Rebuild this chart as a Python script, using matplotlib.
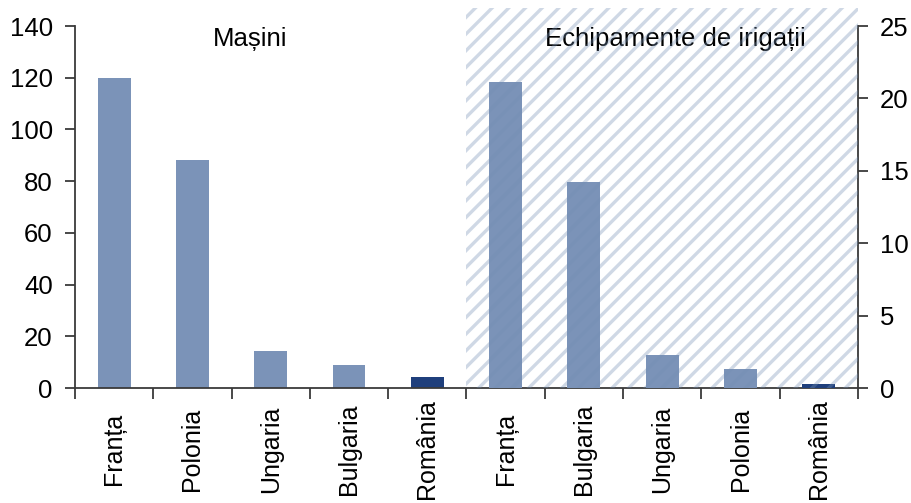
import matplotlib
matplotlib.use('Agg')
import matplotlib.pyplot as plt
from matplotlib.patches import Rectangle
import matplotlib.transforms as mtransforms

plt.rcParams['font.family'] = ['Liberation Sans', 'DejaVu Sans']
plt.rcParams['hatch.linewidth'] = 2.4

# ---- data ----
machines_countries = ['Franța', 'Polonia', 'Ungaria', 'Bulgaria', 'România']
machines_values = [120, 88, 14.3, 8.8, 4.1]
irrig_countries = ['Franța', 'Bulgaria', 'Ungaria', 'Polonia', 'România']
irrig_values = [21.1, 14.2, 2.3, 1.3, 0.25]
left_ticks = [0, 20, 40, 60, 80, 100, 120, 140]
right_ticks = [0, 5, 10, 15, 20, 25]
group_titles = ['Mașini', 'Echipamente de irigații']

bar_color = '#7b93b8'
highlight = '#1f3f7c'
spine_color = '#3a3a3a'
fs = 18.5

fig = plt.figure(figsize=(9.11, 5.03), dpi=100)
ax = fig.add_axes([0.0823, 0.2286, 0.8595, 0.7197])

n1 = len(machines_values)
n2 = len(irrig_values)
x1 = list(range(n1))
x2 = list(range(n1, n1 + n2))
c1 = [highlight if c == 'România' else bar_color for c in machines_countries]
c2 = [highlight if c == 'România' else bar_color for c in irrig_countries]

ax.bar(x1, machines_values, width=0.42, color=c1, zorder=2)
ax.set_ylim(0, 140)
ax.set_xlim(-0.5, n1 + n2 - 0.5)
ax.set_yticks(left_ticks)

ax2 = ax.twinx()
ax2.bar(x2, irrig_values, width=0.42, color=c2, zorder=2)
ax2.set_ylim(0, 25)
ax2.set_yticks(right_ticks)

# hatched background for the second group
trans = mtransforms.blended_transform_factory(ax2.transData, ax2.transAxes)
rect = Rectangle((n1 - 0.5, 0), n2, 1.05, transform=trans, facecolor='none',
                 edgecolor=(0.45, 0.56, 0.70, 0.34), linewidth=0, hatch='//',
                 clip_on=False, zorder=5)
ax2.add_patch(rect)

# spines
for s in ['top', 'right']:
    ax.spines[s].set_visible(False)
for s in ['top', 'left', 'bottom']:
    ax2.spines[s].set_visible(False)
for a, s in [(ax, 'left'), (ax, 'bottom'), (ax2, 'right')]:
    a.spines[s].set_color(spine_color)
    a.spines[s].set_linewidth(1.3)

# x ticks
ax.set_xticks(x1 + x2)
ax.set_xticklabels(machines_countries + irrig_countries, rotation=90, fontsize=18, va='center')
ax.tick_params(axis='x', which='major', length=0, pad=44)
ax.set_xticks([i - 0.5 for i in range(n1 + n2 + 1)], minor=True)
ax.tick_params(axis='x', which='minor', length=8, width=1.3, color=spine_color, direction='out')

ax.tick_params(axis='y', labelsize=fs, length=7, width=1.3, color=spine_color, pad=9)
ax2.tick_params(axis='y', labelsize=fs, length=7, width=1.3, color=spine_color, pad=9)

ax.text(0.2235, 0.965, group_titles[0], transform=ax.transAxes, ha='center', va='center', fontsize=fs)
ax.text(0.767, 0.965, group_titles[1], transform=ax.transAxes, ha='center', va='center', fontsize=fs, zorder=6)

fig.savefig('out.png', dpi=100)
